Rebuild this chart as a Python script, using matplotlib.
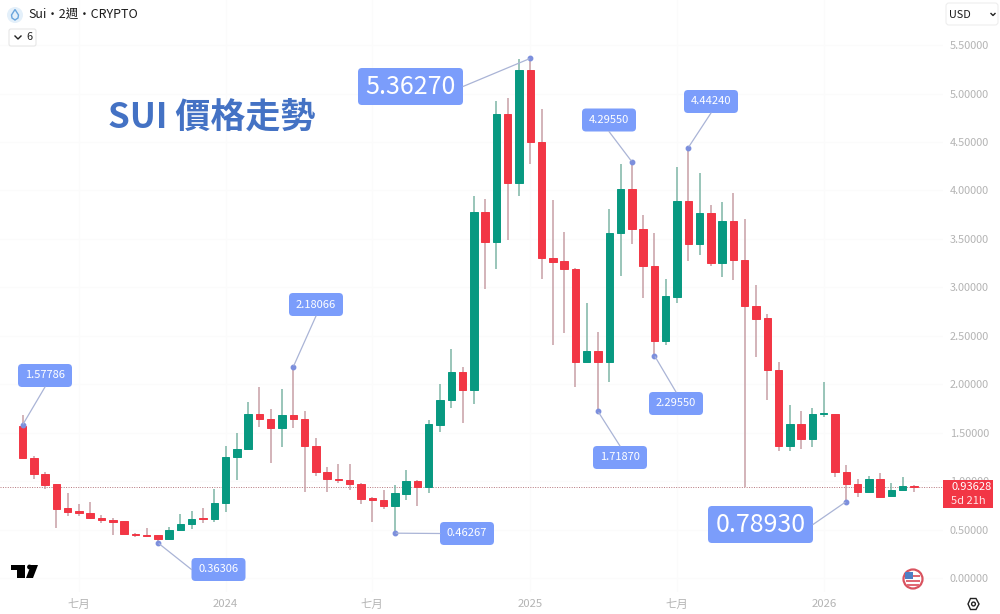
"""
SUI 2-week candlestick chart in the TradingView look
"""
import matplotlib
matplotlib.use("Agg")
import matplotlib.pyplot as plt
import numpy as np
from matplotlib.patches import Circle, FancyBboxPatch, Polygon, Rectangle

plt.rcParams['font.family'] = ['Noto Sans CJK TC', 'DejaVu Sans']

opens = [1.572, 1.241, 1.076, 0.967, 0.719, 0.691, 0.674, 0.622, 0.602, 0.585,
         0.457, 0.444, 0.440, 0.402, 0.498, 0.557, 0.616, 0.609, 0.777, 1.245,
         1.328, 1.696, 1.644, 1.551, 1.682, 1.644, 1.365, 1.097, 1.025, 1.015,
         0.970, 0.822, 0.808, 0.743, 0.870, 1.001, 0.939, 1.579, 1.837, 2.129,
         1.940, 3.780, 3.470, 4.785, 4.073, 5.239, 4.496, 3.302, 3.268, 3.192,
         2.226, 2.346, 2.232, 3.557, 4.014, 3.602, 3.223, 2.449, 2.903, 3.894,
         3.444, 3.767, 3.251, 3.684, 3.282, 2.810, 2.683, 2.147, 1.365, 1.586,
         1.438, 1.692, 1.696, 1.097, 0.970, 0.888, 1.025, 0.843, 0.905, 0.949]
closes = [1.235, 1.073, 0.960, 0.712, 0.684, 0.667, 0.616, 0.595, 0.581, 0.454,
          0.440, 0.436, 0.402, 0.498, 0.560, 0.612, 0.609, 0.777, 1.249, 1.331,
          1.696, 1.641, 1.551, 1.682, 1.641, 1.365, 1.097, 1.022, 1.015, 0.967,
          0.818, 0.805, 0.743, 0.874, 1.001, 0.939, 1.586, 1.840, 2.129, 1.940,
          3.780, 3.470, 4.785, 4.073, 5.239, 4.496, 3.299, 3.261, 3.186, 2.226,
          2.346, 2.232, 3.557, 4.014, 3.602, 3.220, 2.449, 2.910, 3.894, 3.444,
          3.767, 3.248, 3.684, 3.279, 2.807, 2.673, 2.147, 1.365, 1.586, 1.438,
          1.689, 1.700, 1.097, 0.970, 0.888, 1.025, 0.839, 0.905, 0.949, 0.936]
highs = [1.682, 1.256, 1.097, 0.967, 0.874, 0.764, 0.784, 0.650, 0.622, 0.585,
         0.468, 0.513, 0.440, 0.523, 0.660, 0.688, 0.725, 0.918, 1.359, 1.493,
         1.816, 1.974, 1.741, 1.947, 2.18066, 1.723, 1.441, 1.149, 1.176, 1.176,
         0.983, 0.833, 0.908, 0.957, 1.115, 1.014, 1.631, 2.002, 2.363, 2.174,
         3.942, 3.908, 4.925, 4.957, 5.353, 5.3627, 4.837, 3.901, 3.574, 3.202,
         2.835, 2.542, 3.805, 4.269, 4.2955, 3.746, 3.557, 3.086, 4.245, 4.4424,
         4.176, 3.849, 3.880, 3.976, 3.702, 3.020, 2.724, 2.226, 1.785, 1.727,
         1.751, 2.020, 1.696, 1.163, 1.025, 1.053, 1.084, 0.977, 1.045, 0.963]
lows = [1.230, 1.020, 0.918, 0.519, 0.640, 0.640, 0.606, 0.564, 0.447, 0.450,
        0.423, 0.426, 0.36306, 0.402, 0.498, 0.506, 0.564, 0.575, 0.684, 1.011,
        1.328, 1.558, 1.184, 1.349, 1.545, 0.891, 1.056, 0.884, 0.983, 0.908,
        0.760, 0.581, 0.715, 0.46267, 0.805, 0.743, 0.874, 1.510, 1.757, 1.603,
        1.796, 2.979, 3.186, 3.488, 3.942, 4.269, 3.089, 2.405, 2.525, 1.968,
        2.226, 1.7187, 2.026, 3.120, 3.447, 2.893, 2.2955, 2.405, 2.835, 3.271,
        3.330, 3.220, 3.109, 3.075, 0.942, 2.284, 1.837, 1.311, 1.311, 1.331,
        1.355, 1.665, 1.045, 0.7893, 0.836, 0.877, 0.833, 0.843, 0.905, 0.888]

price_ticks = [0.0, 0.5, 1.0, 1.5, 2.0, 2.5, 3.0, 3.5, 4.0, 4.5, 5.0, 5.5]
time_ticks = [5, 18, 31, 45, 58, 71]
time_labels = ['七月', '2024', '七月', '2025', '七月', '2026']
last_price = 0.93628

# candle index, price, label text, box centre (px), is big, line anchor on box
callouts = [
    (0, 1.57786, '1.57786', (45, 375.5), False, (0.5, 1)),
    (24, 2.18066, '2.18066', (316, 304.5), False, (0.5, 1)),
    (12, 0.36306, '0.36306', (218.5, 569.5), False, (0, 0.5)),
    (45, 5.36270, '5.36270', (410.5, 86.5), True, (1, 0.5)),
    (54, 4.29550, '4.29550', (609, 120), False, (0.5, 1)),
    (59, 4.44240, '4.44240', (711, 101.5), False, (0.5, 1)),
    (56, 2.29550, '2.29550', (676, 403.5), False, (0.5, 0)),
    (51, 1.71870, '1.71870', (620, 457.5), False, (0.5, 0)),
    (33, 0.46267, '0.46267', (467, 533.5), False, (0, 0.5)),
    (73, 0.78930, '0.78930', (760.5, 524.5), True, (1, 0.5)),
]

GREEN = '#089981'
RED = '#F23645'
GREEN_WICK = '#7db5a6'
RED_WICK = '#c79fa6'
TICK_GREY = '#b4b4b4'
CALLOUT_BLUE = '#7B9DFB'

fig = plt.figure(figsize=(10, 6.14), dpi=100, facecolor='white')

# price pane, mapped so that 0.0 sits at y=578 px and candles step 11.285 px
ax = fig.add_axes([0, 22 / 614, 0.943, 592 / 614])
ax.set_xlim(-22.5 / 11.285, (943 - 22.5) / 11.285)
ax.set_ylim((578 - 592) / 96.9, 578 / 96.9)

x = np.arange(len(opens))
o = np.array(opens)
c = np.array(closes)
up = c >= o
ax.vlines(x, lows, highs, colors=[GREEN_WICK if u else RED_WICK for u in up],
          linewidth=1.1, zorder=2)
ax.bar(x, np.abs(c - o), bottom=np.minimum(o, c), width=0.66,
       color=[GREEN if u else RED for u in up],
       edgecolor=[GREEN if u else RED for u in up], linewidth=0.7, zorder=3)
ax.axhline(last_price, color='#b5767c', linestyle=(0, (1, 1.5)), linewidth=0.7, zorder=1)

for s in ax.spines.values():
    s.set_visible(False)
ax.yaxis.tick_right()
ax.set_yticks(price_ticks)
ax.set_yticklabels([f'{p:.5f}' for p in price_ticks])
ax.set_xticks(time_ticks)
ax.set_xticklabels(time_labels)
ax.tick_params(axis='both', length=0, labelcolor=TICK_GREY)
ax.tick_params(axis='y', pad=5, labelsize=7.9)
ax.tick_params(axis='x', pad=5, labelsize=8.2)
ax.grid(True, color='#fbfbfb', linewidth=0.8)
ax.set_axisbelow(True)

# overlay in plain pixel coordinates for the callouts and TradingView furniture
ov = fig.add_axes([0, 0, 1, 1], facecolor='none')
ov.set_xlim(0, 1000)
ov.set_ylim(614, 0)
ov.axis('off')

for idx, price, label, centre, big, anchor in callouts:
    w, h = (105, 37) if big else (54, 23)
    left = centre[0] - w / 2
    top = centre[1] - h / 2
    # line first, so the box covers its start
    ov.annotate('', xy=(idx, price), xycoords=ax.transData,
                xytext=(left + anchor[0] * w, top + anchor[1] * h), textcoords='data',
                arrowprops=dict(arrowstyle='-', color='#aab4d6', linewidth=0.9,
                                shrinkA=0, shrinkB=1))
    ov.add_patch(FancyBboxPatch((left, top), w, h,
                                boxstyle=f'round,pad=0,rounding_size={4}',
                                facecolor=CALLOUT_BLUE, edgecolor='none'))
    ov.text(centre[0], centre[1], label, color='white', fontsize=18 if big else 8,
            ha='center', va='center')
    ax.plot(idx, price, 'o', color='#7C8FDD', markersize=3.2, zorder=5, clip_on=False)

ov.text(108, 117.5, 'SUI 價格走勢', color='#4472C4', fontsize=25.2, fontweight='bold',
        ha='left', va='center')

# header
ov.add_patch(Circle((15, 15), 8, facecolor='#e4f0fa', edgecolor='none'))
ov.add_patch(Polygon([(15, 9.5), (18.5, 15), (18, 18), (15, 20), (12, 18), (11.5, 15)],
                     closed=True, facecolor='none', edgecolor='#6aa5dc', linewidth=1))
ov.text(28, 14.5, 'Sui・2週・CRYPTO', color='#1c1c1c', fontsize=9, ha='left', va='center')
ov.add_patch(FancyBboxPatch((9, 29), 27, 17, boxstyle='round,pad=0,rounding_size=2',
                            facecolor='white', edgecolor='#e6e6e6', linewidth=0.8))
ov.plot([15, 18, 21], [36, 39, 36], color='#222222', linewidth=1)
ov.text(29, 37.5, '6', color='#222222', fontsize=7.8, ha='center', va='center')

ov.add_patch(FancyBboxPatch((946, 3), 52, 22, boxstyle='round,pad=0,rounding_size=3',
                            facecolor='white', edgecolor='#eeeeee', linewidth=0.8))
ov.text(949, 14.5, 'USD', color='#1c1c1c', fontsize=7.8, ha='left', va='center')
ov.plot([991, 993, 995], [13.5, 15.5, 13.5], color='#222222', linewidth=1)

# last price tag
ov.add_patch(Rectangle((943, 480), 50, 28, facecolor=RED, edgecolor='none'))
ov.text(951, 487.5, '0.93628', color='white', fontsize=8, ha='left', va='center')
ov.text(951, 501, '5d 21h', color='#ffe4e6', fontsize=8, ha='left', va='center')

# TradingView logo
ov.add_patch(Polygon([(11, 565), (25, 565), (25, 578), (17, 578), (17, 569.5), (11, 569.5)],
                     closed=True, facecolor='black', edgecolor='none'))
ov.add_patch(Circle((29.5, 567), 2.4, facecolor='black', edgecolor='none'))
ov.add_patch(Polygon([(31, 565), (38, 565), (33, 578), (26, 578)],
                     closed=True, facecolor='black', edgecolor='none'))

# flag badge
ov.add_patch(Circle((913, 579), 9.5, facecolor='white', edgecolor='#d9535f', linewidth=1.6))
ov.add_patch(Rectangle((906, 575), 14, 2, facecolor='#e06a74', edgecolor='none'))
ov.add_patch(Rectangle((906, 579.5), 14, 2, facecolor='#e06a74', edgecolor='none'))
ov.add_patch(Rectangle((905, 572), 8, 6.5, facecolor='#4f7fc4', edgecolor='none'))
ov.add_patch(Rectangle((907, 584), 12, 1.5, facecolor='#e06a74', edgecolor='none'))

# settings icon
ov.add_patch(Polygon([(968, 604), (970.5, 598.5), (976, 598.5), (979, 604),
                      (976, 609.5), (970.5, 609.5)],
                     closed=True, facecolor='white', edgecolor='#222222', linewidth=1))
ov.add_patch(Circle((973.5, 604), 1.9, facecolor='white', edgecolor='#222222', linewidth=1))

fig.savefig('out.png', dpi=100, facecolor='white')
